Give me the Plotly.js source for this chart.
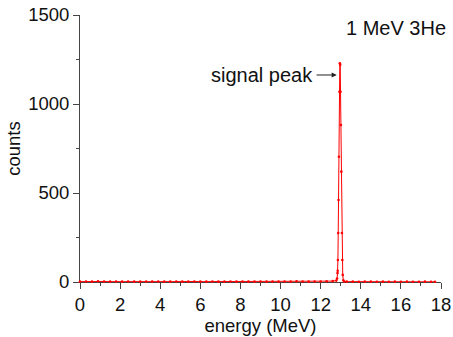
<!DOCTYPE html>
<html>
<head>
<meta charset="utf-8">
<script src="https://cdn.plot.ly/plotly-3.0.1.min.js"></script>
<style>html,body{margin:0;padding:0;background:#fff;}#chart{width:453px;height:337px;}</style>
</head>
<body>
<div id="chart"></div>
<script>
// energy (MeV) of each channel
const energyLow = [0,0.3,0.6,0.9,1.2,1.5,1.8,2.1,2.4,2.7,3,3.3,3.6,3.9,4.2,4.5,4.8,5.1,5.4,5.7,6,6.3,6.6,6.9,7.2,7.5,7.8,8.1,8.4,8.7,9,9.3,9.6,9.9,10.2,10.5,10.8,11.1,11.4,11.7,12,12.3,12.6];
const countsLow = [2,3,2,4,3,2,3,2,3,2,2,3,2,3,2,2,3,2,2,3,2,2,3,2,2,3,2,3,2,2,3,2,3,2,3,2,4,3,2,3,3,4,5];
const energyPeak = [12.78,12.82,12.84,12.85,12.86,12.875,12.89,12.91,12.935,12.955,12.975,12.99,13.01,13.03,13.06,13.08,13.1,13.13,13.17];
const countsPeak = [8,20,50,63,124,275,461,704,1069,1229,1220,1069,882,620,275,124,40,10,3];
const energyHigh = [13.3,13.6,13.9,14.2,14.5,14.8,15.1,15.4,15.7,16,16.3,16.6,16.9,17.2,17.5,17.7];
const countsHigh = [2,2,1,2,2,1,2,1,2,1,2,1,1,2,1,1];

const labelText = "signal peak";
const labelTipX = 12.8, labelY = 1163, labelTailX = 11.72;
const titleText = "1 MeV 3He";

const energy = energyLow.concat(energyPeak, energyHigh);
const counts = countsLow.concat(countsPeak, countsHigh);

const font = "Liberation Sans, Arial, sans-serif";
const trace = {
  x: energy, y: counts, type: "scatter", mode: "lines+markers",
  line: {color: "#ff0000", width: 1},
  marker: {color: "#ff0000", size: 2.6},
  cliponaxis: false
};
const axisCommon = {
  showgrid: false, zeroline: false, showline: true, linecolor: "#444", linewidth: 1,
  ticks: "outside", ticklen: 6, tickwidth: 1, tickcolor: "#444",
  tickfont: {family: font, size: 18.5, color: "#111"},
  layer: "below traces"
};
const layout = {
  width: 453, height: 337,
  margin: {l: 80, r: 12, t: 15, b: 55},
  paper_bgcolor: "#fff", plot_bgcolor: "#fff",
  showlegend: false,
  xaxis: Object.assign({}, axisCommon, {
    range: [0, 18], tickmode: "linear", tick0: 0, dtick: 2,
    minor: {dtick: 1, ticklen: 3, tickcolor: "#444", ticks: "outside"},
    title: {text: "energy (MeV)", font: {family: font, size: 18.5, color: "#111"}, standoff: 0}
  }),
  yaxis: Object.assign({}, axisCommon, {
    range: [0, 1500], tickmode: "linear", tick0: 0, dtick: 500,
    minor: {dtick: 250, ticklen: 3, tickcolor: "#444", ticks: "outside"},
    title: {text: "counts", font: {family: font, size: 18.5, color: "#111"}, standoff: 2}
  }),
  annotations: [
    {x: labelTipX, y: labelY, xref: "x", yref: "y", ax: labelTailX, ay: labelY, axref: "x", ayref: "y",
     text: "", showarrow: true, arrowhead: 2, arrowsize: 1, arrowwidth: 1, arrowcolor: "#222", standoff: 0, startstandoff: 0},
    {x: labelTailX, y: labelY, xref: "x", yref: "y", text: labelText, showarrow: false,
     xanchor: "right", yanchor: "middle", font: {family: font, size: 20, color: "#111"}},
    {x: 1.02, y: 0.951, xref: "paper", yref: "paper", text: titleText, showarrow: false,
     xanchor: "right", yanchor: "middle", font: {family: font, size: 20, color: "#111"}}
  ]
};
Plotly.newPlot("chart", [trace], layout, {displayModeBar: false, staticPlot: true});
</script>
</body>
</html>
